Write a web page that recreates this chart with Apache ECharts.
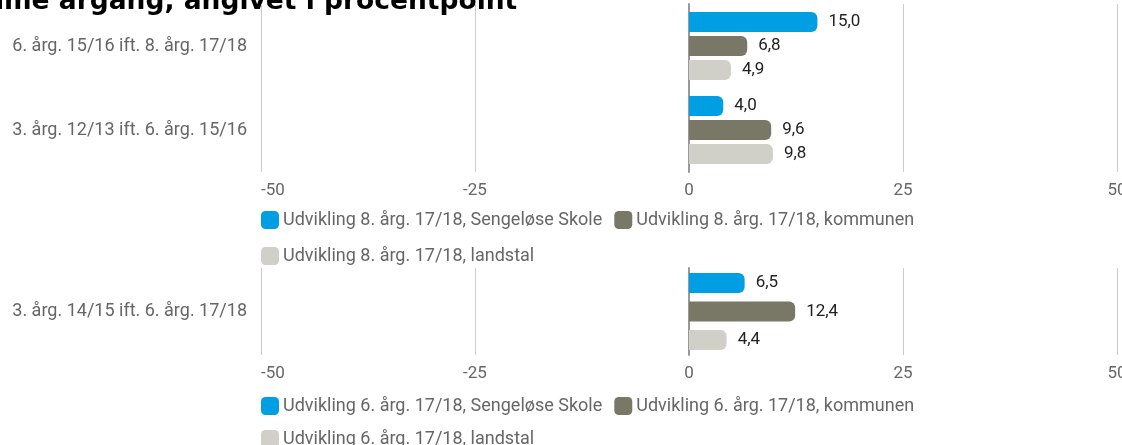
<!DOCTYPE html>
<html>
<head>
<meta charset="utf-8">
<script src="https://cdn.jsdelivr.net/npm/echarts@6/dist/echarts.min.js"></script>
<style>
  html, body { margin: 0; padding: 0; background: #fff; }
  #main { width: 1122px; height: 445px; }
</style>
</head>
<body>
<div id="main"></div>
<script>
// data
var titleText = 'samme årgang, angivet i procentpoint'
var xTicks = [-50, -25, 0, 25, 50]

var cats8 = ['6. årg. 15/16 ift. 8. årg. 17/18', '3. årg. 12/13 ift. 6. årg. 15/16']
var skole8 = [15.0, 4.0]
var kommune8 = [6.8, 9.6]
var land8 = [4.9, 9.8]
var names8 = ['Udvikling 8. årg. 17/18, Sengeløse Skole', 'Udvikling 8. årg. 17/18, kommunen', 'Udvikling 8. årg. 17/18, landstal']

var cats6 = ['3. årg. 14/15 ift. 6. årg. 17/18']
var skole6 = [6.5]
var kommune6 = [12.4]
var land6 = [4.4]
var names6 = ['Udvikling 6. årg. 17/18, Sengeløse Skole', 'Udvikling 6. årg. 17/18, kommunen', 'Udvikling 6. årg. 17/18, landstal']

var colors = ['#009fe3', '#797866', '#d0d0c8']
var font = 'Roboto, sans-serif'

var chart = echarts.init(document.getElementById('main'))

// how much of the title is cut at the left edge
var ctx = document.createElement('canvas').getContext('2d')
ctx.font = 'bold 26.5px "DejaVu Sans"'
var cut = ctx.measureText('sam').width - 4

function valAxis(gridIndex) {
    return {
        type: 'value', gridIndex: gridIndex,
        min: xTicks[0], max: xTicks[xTicks.length - 1], interval: 25,
        axisLine: { show: false }, axisTick: { show: false },
        splitLine: { lineStyle: { color: '#cccccc', width: 1 } },
        axisLabel: { color: '#666', fontFamily: font, fontSize: 17, margin: 10, alignMinLabel: 'left' }
    }
}

function catAxis(gridIndex, data) {
    return {
        type: 'category', gridIndex: gridIndex, data: data, inverse: true,
        axisTick: { show: false },
        axisLine: { onZero: true, lineStyle: { color: '#999', width: 2 } },
        axisLabel: { color: '#666', fontFamily: font, fontSize: 18, margin: 14 }
    }
}

function bar(name, data, i, axis, gap) {
    return {
        name: name, type: 'bar', data: data,
        xAxisIndex: axis, yAxisIndex: axis,
        barWidth: 20, barGap: gap,
        itemStyle: { color: colors[i], borderRadius: [0, 6, 6, 0] },
        label: {
            show: true, position: 'right', distance: 11,
            color: '#222', fontFamily: font, fontSize: 17,
            formatter: function (p) { return p.value.toFixed(1).replace('.', ',') }
        }
    }
}

function legend(top, data) {
    return {
        left: 261, top: top, data: data, orient: 'horizontal',
        icon: 'roundRect', itemWidth: 18, itemHeight: 18, itemGap: 12,
        textStyle: { color: '#666', fontFamily: font, fontSize: 18, padding: [0, 0, 0, -1] },
        selectedMode: false, padding: 0
    }
}

var option = {
    animation: false,
    graphic: [{
        type: 'text', left: -cut, top: -11,
        style: { text: titleText, fontFamily: 'DejaVu Sans', fontWeight: 'bold', fontSize: 26.5, fill: '#000' }
    }],
    grid: [
        { left: 261, right: 5, top: 4, height: 168, outerBoundsMode: 'none' },
        { left: 261, right: 5, top: 268, height: 87, outerBoundsMode: 'none' }
    ],
    xAxis: [valAxis(0), valAxis(1)],
    yAxis: [catAxis(0, cats8), catAxis(1, cats6)],
    legend: [
        legend(211, names8.slice(0, 2)),
        legend(247, names8.slice(2)),
        legend(397, names6.slice(0, 2)),
        legend(430, names6.slice(2))
    ],
    series: [
        bar(names8[0], skole8, 0, 0, '20%'),
        bar(names8[1], kommune8, 1, 0, '20%'),
        bar(names8[2], land8, 2, 0, '20%'),
        bar(names6[0], skole6, 0, 1, '42%'),
        bar(names6[1], kommune6, 1, 1, '42%'),
        bar(names6[2], land6, 2, 1, '42%')
    ]
}

chart.setOption(option)
</script>
</body>
</html>
